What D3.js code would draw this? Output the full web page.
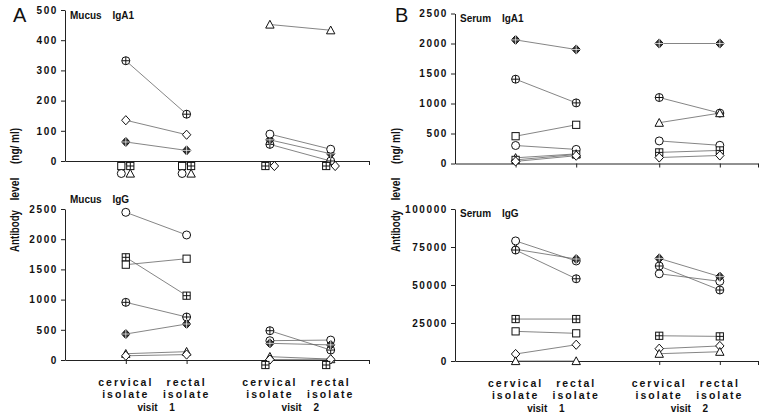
<!DOCTYPE html>
<html lang="en">
<head>
<meta charset="UTF-8">
<title>Antibody levels</title>
<script src="https://d3js.org/d3.v7.min.js"></script>
<style>
  body { margin: 0; background: #fff; }
  text { font-family: Arial, "Liberation Sans", sans-serif; fill: #111; }
  .tick text { font-weight: bold; font-size: 10px; letter-spacing: 1.6px; }
  .tick line, .domain { stroke: #222; stroke-width: 1; }
</style>
</head>
<body>
<svg id="chart" width="769" height="417"></svg>
<script>
// category positions along the x axis (visit 1: cervical, rectal; visit 2: cervical, rectal)
const catPos = [1, 2, 3.37, 4.37];
const catLines = [["cervical", "isolate"], ["rectal", "isolate"], ["cervical", "isolate"], ["rectal", "isolate"]];
const visits = ["1", "2"];
const ndOrder = ["square", "squarePlus", "circle", "triangle", "diamond", "circlePlus", "diamondPlus"];

// each series: marker, [cervical, rectal] for visit 1 and visit 2 (null = below detection)
const mucusIgA1 = [
  { m: "circlePlus", v1: [332, 155], v2: [55, 0] },
  { m: "diamond", v1: [135, 87], v2: [null, null] },
  { m: "diamondPlus", v1: [63, 35], v2: [70, 24] },
  { m: "square", v1: [null, null], v2: null },
  { m: "squarePlus", v1: [null, null], v2: [null, null] },
  { m: "circle", v1: [null, null], v2: [89, 39] },
  { m: "triangle", v1: [null, null], v2: [452, 433] }
];
const mucusIgG = [
  { m: "circle", v1: [2445, 2070], v2: [320, 330] },
  { m: "squarePlus", v1: [1700, 1065], v2: [null, null] },
  { m: "square", v1: [1578, 1677], v2: null },
  { m: "circlePlus", v1: [955, 712], v2: [485, 165] },
  { m: "diamondPlus", v1: [430, 596], v2: [276, 250] },
  { m: "triangle", v1: [104, 138], v2: [55, 15] },
  { m: "diamond", v1: [70, 90], v2: [8, 12] }
];
const serumIgA1 = [
  { m: "diamondPlus", v1: [2060, 1900], v2: [2000, 2000] },
  { m: "circlePlus", v1: [1405, 1010], v2: [1100, 840] },
  { m: "square", v1: [455, 645], v2: null },
  { m: "circle", v1: [300, 235], v2: [376, 303] },
  { m: "triangle", v1: [95, 160], v2: [680, 840] },
  { m: "squarePlus", v1: [60, 150], v2: [185, 218] },
  { m: "diamond", v1: [35, 130], v2: [100, 134] }
];
const serumIgG = [
  { m: "circle", v1: [79000, 65800], v2: [57400, 52400] },
  { m: "diamondPlus", v1: [73500, 67100], v2: [67500, 55500] },
  { m: "circlePlus", v1: [73000, 54100], v2: [62500, 46700] },
  { m: "squarePlus", v1: [27600, 27600], v2: [16600, 16200] },
  { m: "square", v1: [19500, 18200], v2: null },
  { m: "diamond", v1: [4600, 10700], v2: [8100, 9900] },
  { m: "triangle", v1: [0, 0], v2: [4800, 6100] }
];

const svg = d3.select("#chart");

function marker(g, type, x, y) {
  const s = g.append("g").attr("transform", `translate(${x},${y})`);
  const st = { stroke: "#111", "stroke-width": 1, fill: "#fff" };
  const apply = sel => { for (const k in st) sel.attr(k, st[k]); return sel; };
  if (type === "circle" || type === "circlePlus") {
    apply(s.append("circle").attr("r", 4));
    if (type === "circlePlus") s.append("path").attr("d", "M-4,0H4M0,-4V4").attr("stroke", "#111");
  } else if (type === "square" || type === "squarePlus") {
    apply(s.append("rect").attr("x", -3.6).attr("y", -3.6).attr("width", 7.2).attr("height", 7.2));
    if (type === "squarePlus") s.append("path").attr("d", "M-3.6,0H3.6M0,-3.6V3.6").attr("stroke", "#111");
  } else if (type === "triangle") {
    apply(s.append("path").attr("d", "M0,-4.2L4.2,3.6H-4.2Z"));
  } else if (type === "diamond") {
    apply(s.append("path").attr("d", "M0,-4.6L4.2,0L0,4.6L-4.2,0Z"));
  } else if (type === "diamondPlus") {
    s.append("path").attr("d", "M0,-4.6L4.2,0L0,4.6L-4.2,0Z").attr("fill", "#333").attr("stroke", "#111");
    s.append("path").attr("d", "M-4.6,0H4.6M0,-5V5").attr("stroke", "#fff").attr("stroke-width", 0.7);
  }
}

function panel(cfg) {
  const g = svg.append("g");
  const x = d3.scaleLinear().domain([0, 5]).range([cfg.left, cfg.right]);
  const y = d3.scaleLinear().domain([0, cfg.max]).range([cfg.bottom, cfg.top]);

  g.append("g").attr("transform", `translate(${cfg.left},0)`)
    .call(d3.axisLeft(y).tickValues(d3.range(0, cfg.max + 1, cfg.step)).tickFormat(d3.format("d"))
      .tickSize(4).tickPadding(4).tickSizeOuter(0))
    .call(a => a.selectAll(".tick text").attr("dx", 1));

  g.append("g").attr("transform", `translate(0,${cfg.bottom})`)
    .call(d3.axisBottom(x).tickValues(catPos.concat([5])).tickSize(4).tickSizeOuter(0).tickFormat(""));

  g.append("text").attr("x", cfg.left + 5).attr("y", cfg.titleY)
    .attr("font-size", 10).attr("font-weight", "bold").attr("word-spacing", 8).text(cfg.title);

  // connecting lines
  ["v1", "v2"].forEach((vk, vi) => {
    const px = [x(catPos[vi * 2]), x(catPos[vi * 2 + 1])];
    cfg.data.forEach(s => {
      const v = s[vk];
      if (v && v[0] != null && v[1] != null) {
        g.append("line").attr("x1", px[0]).attr("y1", y(v[0])).attr("x2", px[1]).attr("y2", y(v[1]))
          .attr("stroke", "#666").attr("stroke-width", 0.8);
      }
    });
    [0, 1].forEach(ci => {
      const nd = [];
      cfg.data.forEach(s => {
        const v = s[vk];
        if (!v) return;
        if (v[ci] == null) nd.push(s.m);
        else marker(g, s.m, px[ci], y(v[ci]));
      });
      // non-detected markers grouped under the axis
      nd.sort((a, b) => ndOrder.indexOf(a) - ndOrder.indexOf(b));
      nd.forEach((m, i) => {
        marker(g, m, px[ci] + (i % 2 ? 4.5 : -4.5), cfg.bottom + 5 + Math.floor(i / 2) * 7.5);
      });
    });
  });

  if (cfg.xlabels) {
    catPos.forEach((c, i) => {
      catLines[i].forEach((t, j) => {
        g.append("text").attr("x", x(c)).attr("y", cfg.bottom + 26 + j * 12)
          .attr("text-anchor", "middle").attr("font-size", 10.5).attr("font-weight", "bold")
          .attr("letter-spacing", 2).text(t);
      });
    });
    visits.forEach((v, i) => {
      const cx = (x(catPos[i * 2]) + x(catPos[i * 2 + 1])) / 2;
      g.append("text").attr("x", cx).attr("y", cfg.bottom + 51).attr("text-anchor", "middle")
        .attr("font-size", 10).attr("font-weight", "bold").attr("word-spacing", 9).text("visit " + v);
    });
  }
}

panel({ title: "Mucus IgA1", titleY: 19, data: mucusIgA1, left: 65, right: 369, top: 10, bottom: 161, max: 500, step: 100 });
panel({ title: "Mucus IgG", titleY: 203, data: mucusIgG, left: 65, right: 369, top: 209, bottom: 360, max: 2500, step: 500, xlabels: true });
panel({ title: "Serum IgA1", titleY: 22, data: serumIgA1, left: 455, right: 758, top: 13.5, bottom: 163.5, max: 2500, step: 500 });
panel({ title: "Serum IgG", titleY: 217, data: serumIgG, left: 455, right: 758, top: 209, bottom: 361, max: 100000, step: 25000, xlabels: true });

// panel letters and y-axis titles (word, centre, length)
const yTitleParts = [["Antibody", 231, 42], ["level", 189, 23], ["(ng/ ml)", 146, 36]];
[["A", 13, 19], ["B", 395, 400]].forEach(([t, lx, yx]) => {
  svg.append("text").attr("x", lx).attr("y", 22).attr("font-size", 20).text(t);
  yTitleParts.forEach(([w, cy, len]) => {
    svg.append("text").attr("transform", `translate(${yx},${cy}) rotate(-90)`)
      .attr("text-anchor", "middle").attr("font-size", 13).attr("font-weight", "bold")
      .attr("textLength", len).attr("lengthAdjust", "spacingAndGlyphs").text(w);
  });
});
</script>
</body>
</html>
